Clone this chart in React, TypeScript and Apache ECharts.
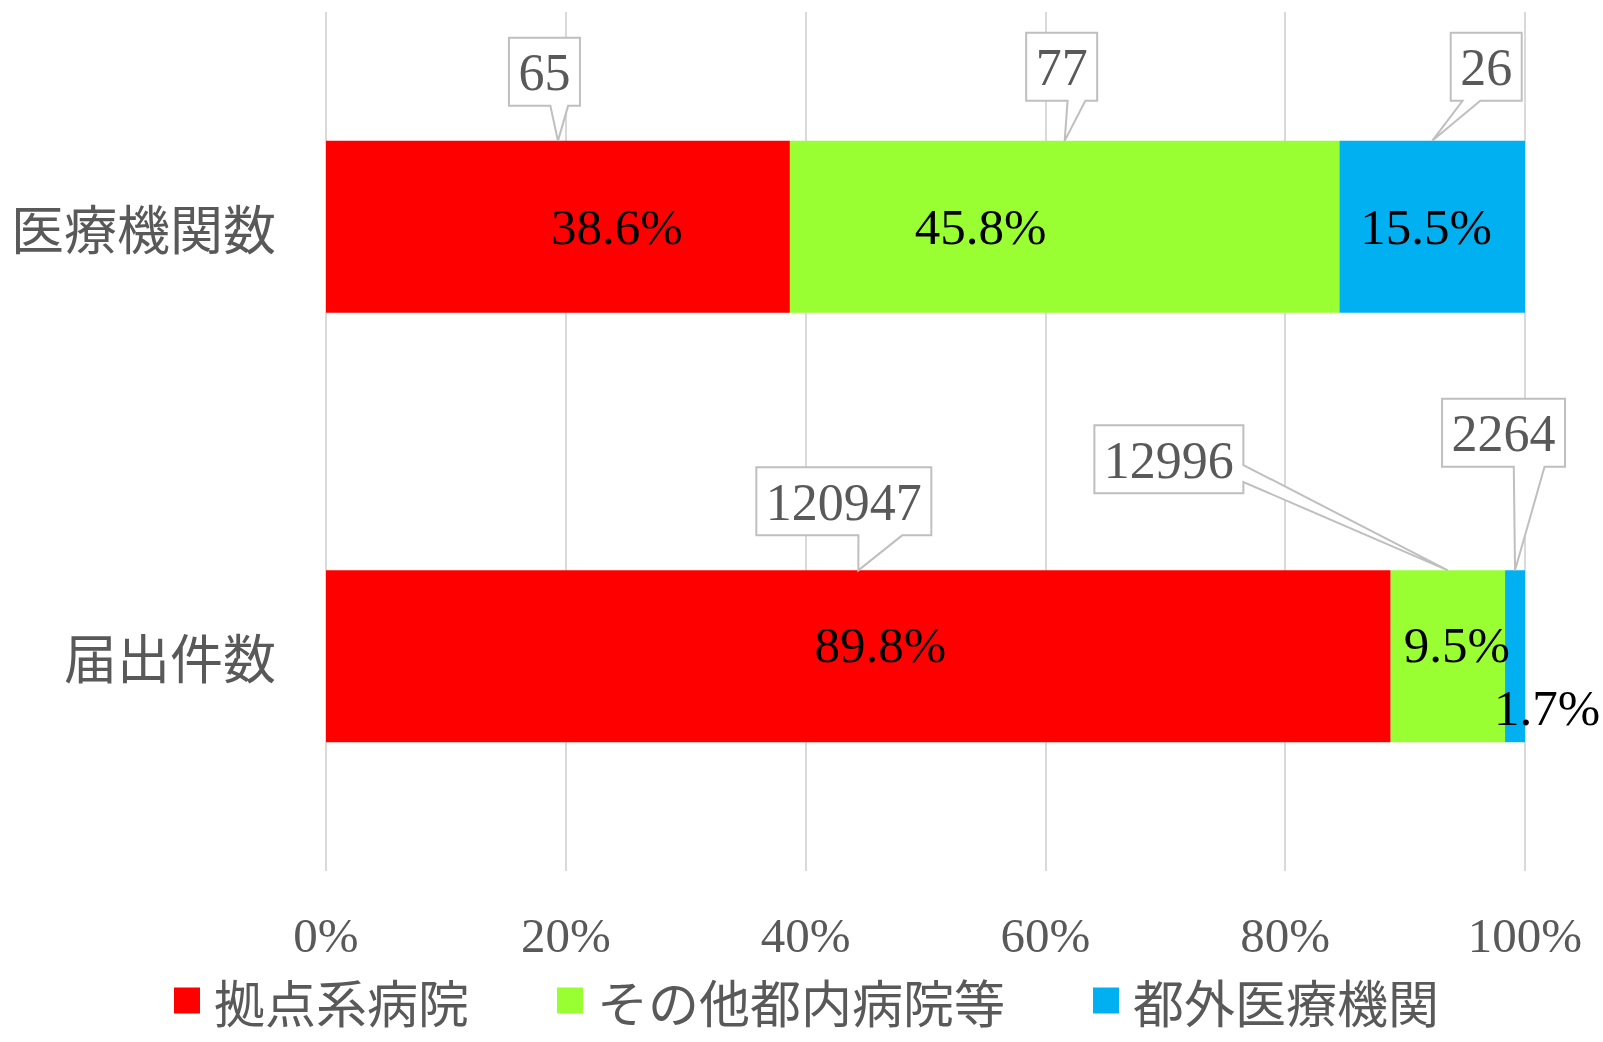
import React, { useEffect, useRef } from "react";
import * as echarts from "echarts";

// ---- data ----
const categories = ["医療機関数", "届出件数"];
const seriesNames = ["拠点系病院", "その他都内病院等", "都外医療機関"];
const hubHospitals = [65, 120947];
const otherTokyoHospitals = [77, 12996];
const outsideTokyo = [26, 2264];
const hubPctLabels = ["38.6%", "89.8%"];
const otherPctLabels = ["45.8%", "9.5%"];
const outsidePctLabels = ["15.5%", "1.7%"];
const xTickValues = [0, 20, 40, 60, 80, 100];

// ---- styles / layout ----
const colors = ["#FF0000", "#99FF33", "#00B0F0"];
const BAR_RATIO = 0.4;
const pctLabelOffsets = [
  [[59, 0], [22, -11]],
  [[-84, 0], [9, -11]],
  [[-6, 0], [32, 52]],
];
const calloutOffsets = [
  [[-13.5, -69], [-14.5, -69]],
  [[-3, -74], [-279, -111]],
  [[54, -74], [-11.5, -137.5]],
];
const SERIF = "'Times New Roman', 'Liberation Serif', serif";
const SANS_JP = "'Noto Sans CJK JP', 'Noto Sans', sans-serif";

function calloutPoints(l: number, t: number, w: number, h: number, tx: number, ty: number) {
  const cx = l + w / 2, cy = t + h / 2;
  const dx = tx - cx, dy = ty - cy;
  const dq = (dx * h) / w;
  const r = l + w, b = t + h;
  if (Math.abs(dy) > Math.abs(dq)) {
    const x1 = l + (w * (dx > 0 ? 7 : 2)) / 12;
    const x2 = l + (w * (dx > 0 ? 10 : 5)) / 12;
    if (dy > 0) return [[l, t], [r, t], [r, b], [x2, b], [tx, ty], [x1, b], [l, b]];
    return [[l, t], [x1, t], [tx, ty], [x2, t], [r, t], [r, b], [l, b]];
  } else {
    const y1 = t + (h * (dy > 0 ? 7 : 2)) / 12;
    const y2 = t + (h * (dy > 0 ? 10 : 5)) / 12;
    if (dx > 0) return [[l, t], [r, t], [r, y1], [tx, ty], [r, y2], [r, b], [l, b]];
    return [[l, t], [r, t], [r, b], [l, b], [l, y2], [tx, ty], [l, y1]];
  }
}

export default function App() {
  const ref = useRef<HTMLDivElement>(null);
  useEffect(() => {
    document.body.style.margin = "0";
    if (!ref.current) return;
    const chart = echarts.init(ref.current, null, { renderer: "svg" });

    const counts = [hubHospitals, otherTokyoHospitals, outsideTokyo];
    const pctLabels = [hubPctLabels, otherPctLabels, outsidePctLabels];
    const totals = categories.map((_, c) => counts.reduce((s, arr) => s + arr[c], 0));
    const shares = counts.map((arr) => arr.map((v, c) => (v / totals[c]) * 100));

    const calloutData: any[] = [];
    categories.forEach((_, c) => {
      let cum = 0;
      shares.forEach((arr, s) => {
        calloutData.push([cum + arr[c] / 2, c, s, counts[s][c]]);
        cum += arr[c];
      });
    });

    const barSeries = seriesNames.map((name, s) => ({
      name,
      type: "bar",
      stack: "total",
      barWidth: "40%",
      itemStyle: { color: colors[s] },
      label: {
        show: true,
        position: "inside",
        color: "#000000",
        fontSize: 51,
        fontFamily: SERIF,
        formatter: (p: any) => pctLabels[s][p.dataIndex],
      },
      data: shares[s].map((v, c) => ({
        value: v,
        label: { offset: pctLabelOffsets[s][c] },
      })),
    }));

    chart.setOption({
      animation: false,
      backgroundColor: "#ffffff",
      grid: { left: 326, right: 78, top: 12, bottom: 171, containLabel: false },
      legend: {
        data: seriesNames,
        left: 174,
        top: 975,
        padding: 0,
        icon: "rect",
        itemWidth: 26,
        itemHeight: 26,
        itemGap: 88,
        textStyle: {
          fontSize: 51,
          lineHeight: 51,
          color: "#595959",
          fontFamily: SANS_JP,
          padding: [0, 0, 0, 9],
        },
      },
      xAxis: {
        type: "value",
        min: xTickValues[0],
        max: xTickValues[xTickValues.length - 1],
        interval: xTickValues[1] - xTickValues[0],
        axisLine: { show: false },
        axisTick: { show: false },
        splitLine: { show: true, lineStyle: { color: "#D9D9D9", width: 2 } },
        axisLabel: {
          formatter: "{value}%",
          fontSize: 49,
          color: "#595959",
          fontFamily: SERIF,
          margin: 40,
        },
      },
      yAxis: {
        type: "category",
        inverse: true,
        data: categories,
        axisLine: { show: false },
        axisTick: { show: false },
        axisLabel: {
          fontSize: 53,
          color: "#595959",
          fontFamily: SANS_JP,
          margin: 50,
          padding: [0, 0, 8, 0],
        },
      },
      series: [
        ...barSeries,
        {
          type: "custom",
          name: "callouts",
          coordinateSystem: "cartesian2d",
          clip: false,
          silent: true,
          z: 10,
          encode: { x: 0, y: 1 },
          data: calloutData,
          renderItem: (params: any, api: any) => {
            const xMid = api.value(0);
            const c = api.value(1);
            const s = api.value(2);
            const val = api.value(3);
            const pt = api.coord([xMid, c]);
            const band = api.size([0, 1])[1];
            const tipX = pt[0];
            const tipY = pt[1] - (band * BAR_RATIO) / 2;
            const text = String(val);
            const w = text.length * 26 + 19;
            const h = 68;
            const off = calloutOffsets[s][c];
            const cx = tipX + off[0];
            const cy = tipY + off[1];
            const l = cx - w / 2;
            const t = cy - h / 2;
            return {
              type: "group",
              children: [
                {
                  type: "polygon",
                  shape: { points: calloutPoints(l, t, w, h, tipX, tipY) },
                  style: { fill: "#ffffff", stroke: "#BFBFBF", lineWidth: 2 },
                },
                {
                  type: "text",
                  style: {
                    text,
                    x: cx,
                    y: cy + 1,
                    align: "center",
                    verticalAlign: "middle",
                    fontSize: 52,
                    fontFamily: SERIF,
                    fill: "#595959",
                  },
                },
              ],
            };
          },
        },
      ],
    });
    return () => chart.dispose();
  }, []);
  return <div ref={ref} style={{ width: 1603, height: 1042 }} />;
}
